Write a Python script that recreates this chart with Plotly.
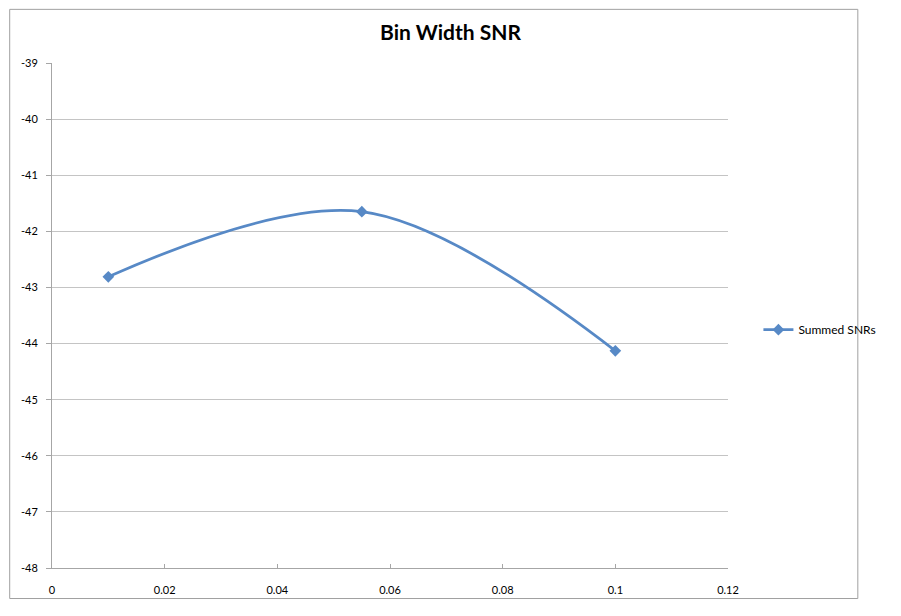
import plotly.graph_objects as go

# data
bin_width = [0.01, 0.055, 0.1]
summed_snr = [-42.81, -41.65, -44.13]

x_ticks = [0, 0.02, 0.04, 0.06, 0.08, 0.1, 0.12]
x_labels = ["0", "0.02", "0.04", "0.06", "0.08", "0.1", "0.12"]
y_ticks = [-48, -47, -46, -45, -44, -43, -42, -41, -40, -39]
y_labels = ["-48", "-47", "-46", "-45", "-44", "-43", "-42", "-41", "-40", "-39"]

blue = "#5789C6"
grid = "#C4C4C4"
axis = "#A6A6A6"

fig = go.Figure()

fig.add_trace(go.Scatter(
    x=bin_width,
    y=summed_snr,
    mode="lines+markers",
    name="Summed SNRs",
    line=dict(color=blue, width=2.8, shape="spline", smoothing=1.0),
    marker=dict(symbol="diamond", size=9, color=blue),
))

# page body has an 8px margin, so the figure is sized to fit inside it
fig.update_layout(
    width=885,
    height=600,
    margin=dict(l=44, r=138, t=55, b=32),
    paper_bgcolor="white",
    plot_bgcolor="white",
    font=dict(family="Lato, Open Sans, sans-serif", size=11, color="#000000"),
    title=dict(
        text="<b>Bin Width SNR</b>",
        x=0.5,
        xref="container",
        xanchor="center",
        y=1 - 25 / 600,
        yref="container",
        yanchor="middle",
        font=dict(size=21, family="Lato, Open Sans, sans-serif"),
    ),
    showlegend=True,
    legend=dict(
        x=1.045,
        y=0.472,
        xanchor="left",
        yanchor="middle",
        bgcolor="rgba(0,0,0,0)",
        font=dict(size=12),
        itemwidth=30,
    ),
    # outer chart border
    shapes=[dict(
        type="rect",
        xref="paper", yref="paper",
        x0=-44 / 703, x1=(882 - 44) / 703, y0=-31 / 513, y1=(568 - 0.5) / 513,
        line=dict(color="#A0A0A0", width=1),
        fillcolor="rgba(0,0,0,0)",
        layer="below",
    )],
)

fig.update_xaxes(
    range=[0, 0.12],
    tickvals=x_ticks,
    ticktext=x_labels,
    showgrid=False,
    zeroline=False,
    showline=True,
    linecolor=axis,
    linewidth=1,
    ticks="inside",
    ticklen=4,
    tickcolor=axis,
    ticklabelstandoff=12,
)

fig.update_yaxes(
    range=[-48, -39],
    tickvals=y_ticks,
    ticktext=y_labels,
    showgrid=True,
    gridcolor=grid,
    gridwidth=1,
    zeroline=False,
    showline=True,
    linecolor=axis,
    linewidth=1,
    ticks="outside",
    ticklen=5,
    tickcolor=axis,
    ticklabelstandoff=6,
)

fig.write_html("out.html")
